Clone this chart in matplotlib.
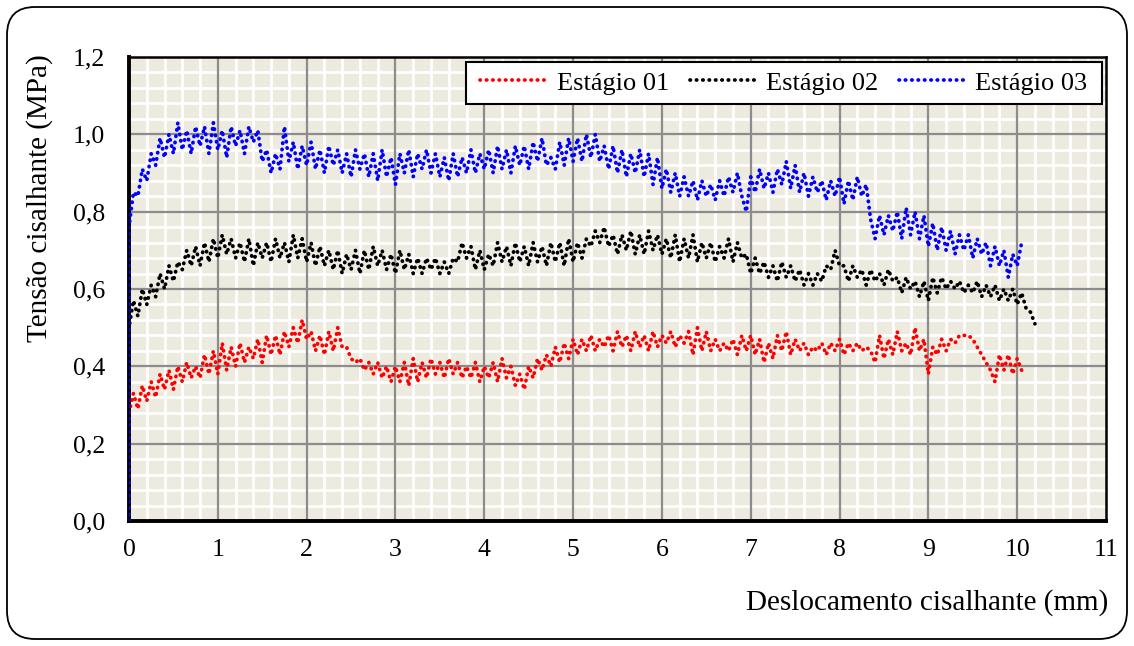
import numpy as np
import matplotlib
matplotlib.use("Agg")
import matplotlib.pyplot as plt
from matplotlib.patches import FancyBboxPatch, Rectangle
from matplotlib.transforms import IdentityTransform
from matplotlib.ticker import MultipleLocator, FuncFormatter

# ensaio de cisalhamento direto - leituras a cada 0,05 mm de deslocamento
passo = 0.05

tensao_01 = [0.00,
    0.28, 0.33, 0.29, 0.35, 0.31, 0.36, 0.32, 0.38, 0.34, 0.39,
    0.34, 0.40, 0.36, 0.41, 0.37, 0.40, 0.37, 0.43, 0.38, 0.44,
    0.38, 0.46, 0.39, 0.45, 0.40, 0.46, 0.41, 0.45, 0.42, 0.47,
    0.41, 0.48, 0.43, 0.48, 0.43, 0.49, 0.45, 0.50, 0.46, 0.52,
    0.47, 0.49, 0.44, 0.48, 0.43, 0.49, 0.44, 0.50, 0.45, 0.45,
    0.42, 0.41, 0.42, 0.39, 0.41, 0.38, 0.41, 0.37, 0.40, 0.36,
    0.40, 0.36, 0.41, 0.35, 0.42, 0.36, 0.41, 0.37, 0.42, 0.38,
    0.41, 0.37, 0.42, 0.38, 0.41, 0.37, 0.40, 0.37, 0.41, 0.36,
    0.40, 0.37, 0.41, 0.36, 0.42, 0.37, 0.40, 0.35, 0.38, 0.34,
    0.40, 0.37, 0.42, 0.39, 0.43, 0.40, 0.45, 0.41, 0.46, 0.42,
    0.47, 0.43, 0.47, 0.44, 0.48, 0.44, 0.47, 0.45, 0.48, 0.44,
    0.49, 0.45, 0.48, 0.44, 0.49, 0.45, 0.48, 0.44, 0.49, 0.45,
    0.48, 0.46, 0.49, 0.45, 0.48, 0.46, 0.49, 0.43, 0.50, 0.44,
    0.49, 0.44, 0.47, 0.44, 0.46, 0.44, 0.47, 0.43, 0.48, 0.44,
    0.48, 0.43, 0.47, 0.41, 0.46, 0.42, 0.48, 0.44, 0.49, 0.43,
    0.47, 0.44, 0.46, 0.43, 0.45, 0.44, 0.46, 0.43, 0.46, 0.44,
    0.47, 0.43, 0.46, 0.44, 0.46, 0.44, 0.45, 0.44, 0.41, 0.48,
    0.42, 0.47, 0.43, 0.49, 0.44, 0.46, 0.43, 0.50, 0.44, 0.47,
    0.38, 0.45, 0.43, 0.47, 0.44, 0.47, 0.46, 0.48, 0.48, 0.48,
    0.47, 0.45, 0.43, 0.41, 0.39, 0.36, 0.43, 0.39, 0.43, 0.38,
    0.42, 0.39]

tensao_02 = [0.00,
    0.50, 0.57, 0.53, 0.60, 0.56, 0.61, 0.58, 0.64, 0.60, 0.66,
    0.62, 0.67, 0.65, 0.70, 0.66, 0.71, 0.66, 0.72, 0.67, 0.73,
    0.68, 0.74, 0.69, 0.73, 0.68, 0.72, 0.67, 0.73, 0.66, 0.72,
    0.68, 0.72, 0.67, 0.73, 0.68, 0.72, 0.67, 0.74, 0.68, 0.73,
    0.67, 0.72, 0.66, 0.71, 0.66, 0.70, 0.65, 0.70, 0.64, 0.69,
    0.65, 0.70, 0.64, 0.70, 0.65, 0.71, 0.66, 0.70, 0.65, 0.69,
    0.64, 0.70, 0.65, 0.69, 0.64, 0.68, 0.64, 0.68, 0.65, 0.68,
    0.64, 0.67, 0.64, 0.68, 0.67, 0.72, 0.68, 0.71, 0.65, 0.70,
    0.65, 0.69, 0.66, 0.72, 0.67, 0.71, 0.66, 0.72, 0.67, 0.71,
    0.66, 0.72, 0.67, 0.71, 0.66, 0.72, 0.67, 0.72, 0.66, 0.73,
    0.67, 0.72, 0.68, 0.73, 0.71, 0.75, 0.72, 0.76, 0.71, 0.74,
    0.69, 0.74, 0.70, 0.75, 0.69, 0.74, 0.69, 0.75, 0.70, 0.74,
    0.69, 0.73, 0.68, 0.74, 0.67, 0.73, 0.68, 0.74, 0.67, 0.72,
    0.68, 0.72, 0.67, 0.71, 0.68, 0.73, 0.67, 0.72, 0.68, 0.69,
    0.64, 0.68, 0.64, 0.67, 0.63, 0.66, 0.62, 0.67, 0.63, 0.66,
    0.62, 0.65, 0.61, 0.64, 0.61, 0.64, 0.62, 0.66, 0.65, 0.70,
    0.66, 0.66, 0.62, 0.66, 0.63, 0.65, 0.61, 0.65, 0.62, 0.64,
    0.61, 0.65, 0.62, 0.63, 0.59, 0.63, 0.60, 0.62, 0.58, 0.62,
    0.57, 0.63, 0.59, 0.63, 0.60, 0.62, 0.60, 0.62, 0.59, 0.61,
    0.59, 0.62, 0.58, 0.61, 0.58, 0.61, 0.57, 0.60, 0.57, 0.60,
    0.56, 0.59, 0.55, 0.54, 0.51]

tensao_03 = [0.00,
    0.76, 0.85, 0.84, 0.91, 0.88, 0.95, 0.92, 0.99, 0.94, 1.00,
    0.95, 1.03, 0.96, 1.01, 0.95, 1.02, 0.97, 1.02, 0.95, 1.03,
    0.96, 1.01, 0.94, 1.02, 0.97, 1.01, 0.95, 1.02, 0.98, 1.01,
    0.93, 0.96, 0.90, 0.95, 0.91, 1.02, 0.93, 0.98, 0.91, 0.97,
    0.92, 0.98, 0.91, 0.96, 0.90, 0.97, 0.92, 0.96, 0.90, 0.95,
    0.89, 0.96, 0.91, 0.95, 0.89, 0.95, 0.88, 0.96, 0.89, 0.94,
    0.87, 0.95, 0.90, 0.96, 0.89, 0.95, 0.91, 0.96, 0.90, 0.95,
    0.89, 0.94, 0.88, 0.95, 0.89, 0.94, 0.90, 0.96, 0.90, 0.95,
    0.91, 0.96, 0.90, 0.97, 0.91, 0.96, 0.90, 0.97, 0.92, 0.97,
    0.91, 0.98, 0.93, 0.99, 0.92, 0.94, 0.91, 0.98, 0.92, 0.99,
    0.93, 0.99, 0.93, 1.00, 0.94, 1.00, 0.93, 0.97, 0.91, 0.97,
    0.90, 0.96, 0.89, 0.95, 0.90, 0.96, 0.89, 0.95, 0.87, 0.94,
    0.86, 0.91, 0.85, 0.90, 0.84, 0.89, 0.84, 0.88, 0.83, 0.88,
    0.84, 0.87, 0.83, 0.88, 0.84, 0.89, 0.85, 0.90, 0.84, 0.80,
    0.89, 0.85, 0.91, 0.86, 0.90, 0.85, 0.91, 0.87, 0.93, 0.86,
    0.92, 0.85, 0.90, 0.84, 0.89, 0.85, 0.88, 0.83, 0.88, 0.84,
    0.89, 0.82, 0.88, 0.83, 0.89, 0.84, 0.87, 0.78, 0.73, 0.79,
    0.74, 0.79, 0.75, 0.80, 0.73, 0.81, 0.74, 0.80, 0.73, 0.79,
    0.71, 0.77, 0.70, 0.76, 0.70, 0.75, 0.69, 0.74, 0.70, 0.74,
    0.68, 0.73, 0.69, 0.72, 0.66, 0.71, 0.66, 0.70, 0.63, 0.69,
    0.66, 0.72]

series = [
    ("Estágio 01", tensao_01, "#FF0000"),
    ("Estágio 02", tensao_02, "#000000"),
    ("Estágio 03", tensao_03, "#0000FF"),
]

plt.rcParams['font.family'] = ['Liberation Serif', 'DejaVu Serif']

W, H = 1134, 646
fig = plt.figure(figsize=(W / 100, H / 100), dpi=100)
fig.patch.set_facecolor("white")

# moldura arredondada em volta do grafico (coordenadas em pixel)
moldura = FancyBboxPatch((7, 7), W - 14, H - 14,
                         boxstyle="round,pad=0,rounding_size=28",
                         transform=IdentityTransform(),
                         facecolor="none", edgecolor="black", linewidth=1.3)
fig.patches.append(moldura)

ax = fig.add_axes([129 / W, 1 - 521 / H, (1106 - 129) / W, (521 - 57) / H])
ax.set_facecolor("#EDEAE0")

pontilhado = (0, (0.1, 1.6))
for nome, tensao, cor in series:
    desl = np.concatenate([[0.0], np.arange(len(tensao) - 1) * passo])
    ax.plot(desl, tensao, linestyle=pontilhado, dash_capstyle="round",
            color=cor, linewidth=2.7, label=nome, zorder=3)

ax.set_xlim(0, 11)
ax.set_ylim(0, 1.2)
ax.xaxis.set_major_locator(MultipleLocator(1))
ax.xaxis.set_minor_locator(MultipleLocator(0.2))
ax.yaxis.set_major_locator(MultipleLocator(0.2))
ax.yaxis.set_minor_locator(MultipleLocator(0.04))
ax.yaxis.set_major_formatter(FuncFormatter(lambda v, p: f"{v:.1f}".replace(".", ",")))

# grade secundaria branca por baixo, principal cinza por cima
ax.set_axisbelow(True)
ax.grid(which="minor", color="white", linewidth=2.0)
for xv in range(1, 11):
    ax.axvline(xv, color="#8C8C8C", linewidth=1.6, zorder=1)
for yv in np.arange(0.2, 1.2, 0.2):
    ax.axhline(yv, color="#8C8C8C", linewidth=1.6, zorder=1)

ax.tick_params(which="both", length=0, labelsize=18.5, colors="black")
ax.tick_params(axis="x", pad=13)
ax.tick_params(axis="y", pad=17)

for lado in ["left", "bottom"]:
    ax.spines[lado].set_linewidth(2.8)
for lado in ["top", "right"]:
    ax.spines[lado].set_linewidth(1.8)

# caixa da legenda
caixa = Rectangle((466, H - 104), 1102 - 466, 104 - 62, transform=IdentityTransform(),
                  facecolor="white", edgecolor="black", linewidth=1.5, zorder=4,
                  clip_on=False)
ax.add_patch(caixa)
leg = ax.legend(loc="center", bbox_to_anchor=((466 + 1102) / 2, H - 83),
                bbox_transform=IdentityTransform(),
                ncol=3, fontsize=19, frameon=False,
                handlelength=2.61, handletextpad=0.3, columnspacing=0.76,
                borderaxespad=0, borderpad=0)
leg.set_zorder(5)

fig.text(40 / W, 1 - 198 / H, "Tensão cisalhante (MPa)", rotation=90,
         ha="center", va="center", fontsize=21)
fig.text(1108 / W, 1 - 603 / H, "Deslocamento cisalhante (mm)",
         ha="right", va="center", fontsize=21)

fig.savefig("out.png", dpi=100)
